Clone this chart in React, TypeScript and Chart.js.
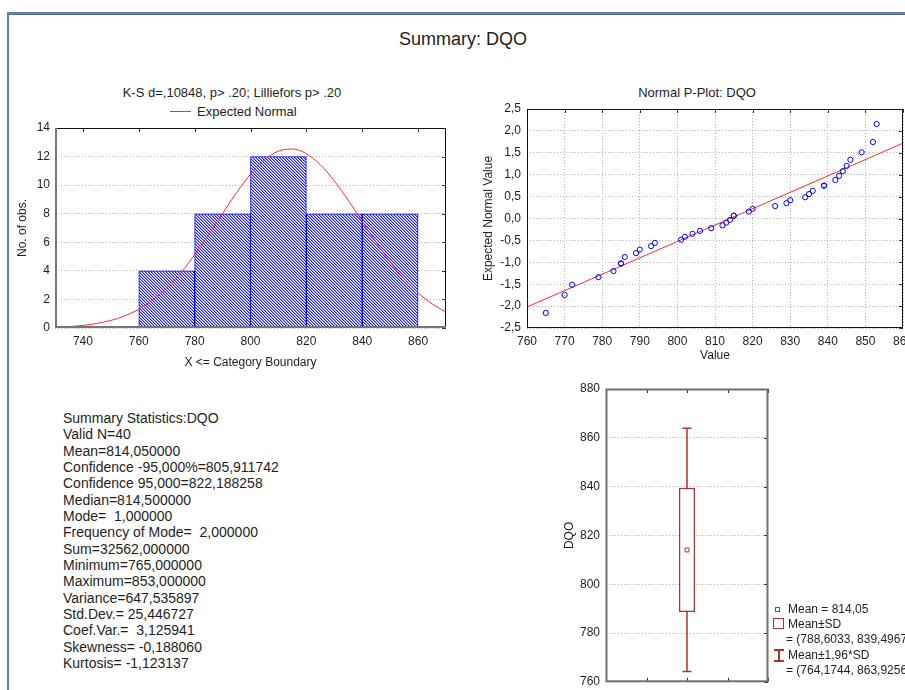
import React, { useEffect, useRef } from 'react';
import { Chart, registerables } from 'chart.js';

Chart.register(...registerables);

const FONT = "'Liberation Sans', Arial, Helvetica, sans-serif";
Chart.defaults.font.family = FONT;
Chart.defaults.font.size = 12;
Chart.defaults.color = '#1e1e1e';

// ---- Histogram (X <= category boundary) ----
const binLower = [760, 780, 800, 820, 840];
const binUpper = [780, 800, 820, 840, 860];
const binCounts = [4, 8, 12, 8, 8];
const histTicks = [740, 760, 780, 800, 820, 840, 860];

// Expected normal curve, read every 5 units
const normalX = [730, 735, 740, 745, 750, 755, 760, 765, 770, 775, 780, 785, 790, 795, 800, 805, 810, 815, 820, 825, 830, 835, 840, 845, 850, 855, 860, 865, 870];
const normalY = [0.05, 0.1, 0.18, 0.32, 0.53, 0.85, 1.31, 1.96, 2.8, 3.86, 5.12, 6.53, 8.02, 9.47, 10.77, 11.77, 12.38, 12.53, 12.2, 11.43, 10.3, 8.94, 7.45, 5.99, 4.62, 3.43, 2.46, 1.69, 1.12];

// ---- Normal probability plot ----
const pValues = [765, 770, 772, 779, 783, 785, 785, 786, 789, 790, 793, 794, 801, 802, 804, 806, 809, 812, 813, 814, 815, 815, 819, 820, 826, 829, 830, 834, 835, 836, 839, 839, 842, 843, 844, 845, 846, 849, 852, 853];
const pExpected = [-2.157, -1.746, -1.512, -1.34, -1.201, -1.027, -1.027, -0.88, -0.791, -0.709, -0.631, -0.557, -0.485, -0.417, -0.349, -0.284, -0.22, -0.156, -0.094, -0.031, 0.063, 0.063, 0.156, 0.22, 0.284, 0.349, 0.417, 0.485, 0.557, 0.631, 0.75, 0.75, 0.88, 0.975, 1.081, 1.201, 1.34, 1.512, 1.746, 2.157];
const fitX = [760, 860];
const fitY = [-2.02, 1.72];

// ---- Box plot ----
const boxMean = 814.05;
const sdRange = [788.6033, 839.4967];
const ciRange = [764.1744, 863.9256];

const statsLines = [
  'Summary Statistics:DQO',
  'Valid N=40',
  'Mean=814,050000',
  'Confidence -95,000%=805,911742',
  'Confidence 95,000=822,188258',
  'Median=814,500000',
  'Mode=  1,000000',
  'Frequency of Mode=  2,000000',
  'Sum=32562,000000',
  'Minimum=765,000000',
  'Maximum=853,000000',
  'Variance=647,535897',
  'Std.Dev.= 25,446727',
  'Coef.Var.=  3,125941',
  'Skewness= -0,188060',
  'Kurtosis= -1,123137',
];

const BOX_RED = '#a83434';
const GRID = '#b4b4b4';

// Plot frame with inward tick marks
const framePlugin = {
  id: 'frame',
  afterDatasetsDraw(chart: any, _args: any, opts: any) {
    const { ctx, chartArea: a, scales } = chart;
    const len = 4;
    ctx.save();
    ctx.strokeStyle = '#333';
    ctx.lineWidth = 1;
    ctx.beginPath();
    const xs = scales.x;
    const ys = scales.y;
    if (opts.top || opts.bottom) {
      xs.ticks.forEach((t: any) => {
        const px = Math.round(xs.getPixelForValue(t.value)) + 0.5;
        if (opts.top) { ctx.moveTo(px, a.top); ctx.lineTo(px, a.top + len); }
        if (opts.bottom) { ctx.moveTo(px, a.bottom); ctx.lineTo(px, a.bottom - len); }
      });
    }
    if (opts.right) {
      ys.ticks.forEach((t: any) => {
        const py = Math.round(ys.getPixelForValue(t.value)) + 0.5;
        ctx.moveTo(a.right, py); ctx.lineTo(a.right - len, py);
      });
    }
    ctx.stroke();
    ctx.strokeStyle = opts.color || '#000';
    ctx.lineWidth = opts.width || 1;
    ctx.strokeRect(a.left + 0.5, a.top + 0.5, a.right - a.left - 1, a.bottom - a.top - 1);
    if (opts.lbColor) {
      ctx.strokeStyle = opts.lbColor;
      ctx.lineWidth = opts.lbWidth || 2;
      ctx.beginPath();
      ctx.moveTo(a.left + 1, a.top);
      ctx.lineTo(a.left + 1, a.bottom - 1);
      ctx.lineTo(a.right, a.bottom - 1);
      ctx.stroke();
    }
    ctx.restore();
  },
};

function makeHatch(): CanvasPattern | string {
  const c = document.createElement('canvas');
  c.width = 3;
  c.height = 3;
  const g = c.getContext('2d');
  if (!g) return '#8080ff';
  g.fillStyle = '#ffffff';
  g.fillRect(0, 0, 3, 3);
  for (let i = 0; i < 3; i++) {
    g.fillStyle = '#2020ff';
    g.fillRect(i, i, 1, 1);
    g.fillStyle = '#9a9aff';
    g.fillRect((i + 1) % 3, i, 1, 1);
  }
  return g.createPattern(c, 'repeat') || '#8080ff';
}

const fmtComma = (v: number) => (Math.abs(v) < 1e-9 ? 0 : v).toFixed(1).replace('.', ',');

function makeHistogram(canvas: HTMLCanvasElement) {
  const hatch = makeHatch();
  return new Chart(canvas, {
    type: 'bar',
    data: {
      datasets: [
        {
          type: 'line',
          label: 'Expected Normal',
          data: normalX.map((x, i) => ({ x, y: normalY[i] })),
          borderColor: '#ff2a2a',
          borderWidth: 1,
          pointRadius: 0,
          cubicInterpolationMode: 'monotone',
        } as any,
        {
          type: 'bar',
          label: 'No. of obs.',
          data: binLower.map((lo, i) => ({ x: (lo + binUpper[i]) / 2, y: binCounts[i] })),
          backgroundColor: hatch as any,
          borderColor: '#0000ff',
          borderWidth: 1,
          borderSkipped: false,
          barPercentage: 1,
          categoryPercentage: 1,
        } as any,
      ],
    },
    options: {
      responsive: false,
      animation: false,
      events: [],
      layout: { padding: { left: 0, top: 13, right: 14, bottom: 2 } },
      plugins: {
        legend: { display: false },
        tooltip: { enabled: false },
        frame: { top: true, right: true, color: '#111', width: 1, lbColor: '#777', lbWidth: 2 },
      } as any,
      scales: {
        x: {
          type: 'linear',
          min: 730,
          max: 870,
          offset: false,
          grid: { display: false, drawTicks: false },
          border: { display: false },
          ticks: { padding: 6 },
          afterBuildTicks: (s: any) => { s.ticks = histTicks.map((value) => ({ value })); },
          title: { display: true, text: 'X <= Category Boundary', padding: { top: 0, bottom: 8 } },
          afterFit: (s: any) => { s.height = 50; },
        },
        y: {
          min: 0,
          max: 14,
          grid: { color: GRID, drawTicks: false },
          border: { display: false, dash: [1, 2] },
          ticks: { stepSize: 2, padding: 5 },
          title: { display: true, text: 'No. of obs.', padding: { top: 15, bottom: 0 } },
          afterFit: (s: any) => { s.width = 55; },
        },
      } as any,
    },
    plugins: [framePlugin],
  });
}

function makePPlot(canvas: HTMLCanvasElement) {
  return new Chart(canvas, {
    type: 'scatter',
    data: {
      datasets: [
        {
          label: 'DQO',
          data: pValues.map((v, i) => ({ x: v, y: pExpected[i] })),
          pointStyle: 'circle',
          pointRadius: 2.6,
          pointBorderWidth: 1,
          pointBorderColor: '#0000ff',
          pointBackgroundColor: 'rgba(255,255,255,0)',
          borderColor: '#0000ff',
        } as any,
        {
          type: 'line',
          label: 'Fit',
          data: fitX.map((x, i) => ({ x, y: fitY[i] })),
          borderColor: '#ff2a2a',
          borderWidth: 1,
          pointRadius: 0,
        } as any,
      ],
    },
    options: {
      responsive: false,
      animation: false,
      events: [],
      layout: { padding: { left: 0, top: 14, right: 17, bottom: 2 } },
      plugins: {
        legend: { display: false },
        tooltip: { enabled: false },
        frame: { top: true, right: true, color: '#111', width: 1 },
      } as any,
      scales: {
        x: {
          type: 'linear',
          min: 760,
          max: 860,
          grid: { color: GRID, drawTicks: false },
          border: { display: false, dash: [1, 2] },
          ticks: { stepSize: 10, padding: 6 },
          title: { display: true, text: 'Value', padding: { top: 0, bottom: 15 } },
          afterFit: (s: any) => { s.height = 50; },
        },
        y: {
          min: -2.5,
          max: 2.5,
          grid: { color: GRID, drawTicks: false },
          border: { display: false, dash: [1, 2] },
          ticks: { stepSize: 0.5, padding: 6, callback: (v: any) => fmtComma(Number(v)) },
          title: { display: true, text: 'Expected Normal Value', padding: { top: 11, bottom: 0 } },
          afterFit: (s: any) => { s.width = 57; },
        },
      } as any,
    },
    plugins: [framePlugin],
  });
}

function makeBoxPlot(canvas: HTMLCanvasElement) {
  return new Chart(canvas, {
    type: 'bar',
    data: {
      datasets: [
        {
          type: 'scatter',
          label: 'Mean',
          data: [{ x: 2, y: boxMean }],
          pointStyle: 'rect',
          pointRadius: 2.8,
          pointBorderWidth: 1,
          pointBorderColor: BOX_RED,
          pointBackgroundColor: '#ffffff',
        } as any,
        {
          type: 'bar',
          label: 'Mean±SD',
          data: [{ x: 2, y: sdRange }],
          backgroundColor: '#ffffff',
          borderColor: BOX_RED,
          borderWidth: 1.5,
          borderSkipped: false,
          grouped: false,
          maxBarThickness: 16,
        } as any,
        {
          type: 'scatter',
          label: 'Caps',
          data: ciRange.map((y) => ({ x: 2, y })),
          pointStyle: 'line',
          pointRadius: 4.5,
          pointBorderWidth: 1.5,
          pointBorderColor: BOX_RED,
        } as any,
        {
          type: 'bar',
          label: 'Mean±1,96*SD',
          data: [{ x: 2, y: ciRange }],
          backgroundColor: BOX_RED,
          borderWidth: 0,
          grouped: false,
          maxBarThickness: 1.5,
        } as any,
      ],
    },
    options: {
      responsive: false,
      animation: false,
      events: [],
      layout: { padding: { left: 0, top: 14, right: 12, bottom: 0 } },
      plugins: {
        legend: { display: false },
        tooltip: { enabled: false },
        frame: { top: true, bottom: true, right: true, color: '#6e6e6e', width: 2 },
      } as any,
      scales: {
        x: {
          type: 'linear',
          min: 0,
          max: 4,
          offset: false,
          grid: { display: false, drawTicks: false },
          border: { display: false },
          ticks: { display: false, stepSize: 1 },
          afterFit: (s: any) => { s.height = 8; },
        },
        y: {
          min: 760,
          max: 880,
          grid: { color: GRID, drawTicks: false },
          border: { display: false, dash: [1, 2] },
          ticks: { stepSize: 20, padding: 6 },
          title: { display: true, text: 'DQO', padding: { top: 22, bottom: 0 } },
          afterFit: (s: any) => { s.width = 66; },
        },
      } as any,
    },
    plugins: [framePlugin],
  });
}

function ChartCanvas(props: { left: number; top: number; width: number; height: number; make: (c: HTMLCanvasElement) => Chart }) {
  const ref = useRef<HTMLCanvasElement>(null);
  const { left, top, width, height, make } = props;
  useEffect(() => {
    if (!ref.current) return;
    const chart = make(ref.current);
    return () => chart.destroy();
  }, [make]);
  return (
    <canvas
      ref={ref}
      width={width}
      height={height}
      style={{ position: 'absolute', left, top, width, height, display: 'block' }}
    />
  );
}

function Txt(props: { x: number; y: number; size?: number; center?: boolean; children: React.ReactNode }) {
  const size = props.size ?? 12;
  const lh = size * 1.2;
  return (
    <div
      style={{
        position: 'absolute',
        left: props.x,
        top: props.y - lh / 2,
        lineHeight: `${lh}px`,
        fontSize: size,
        whiteSpace: 'pre',
        color: '#1e1e1e',
        transform: props.center ? 'translateX(-50%)' : undefined,
      }}
    >
      {props.children}
    </div>
  );
}

export default function App() {
  return (
    <div
      style={{
        position: 'absolute',
        left: 0,
        top: 0,
        width: 905,
        height: 690,
        overflow: 'hidden',
        background: '#ffffff',
        fontFamily: FONT,
      }}
    >
      {/* window frame */}
      <div style={{ position: 'absolute', left: 7, top: 12, width: 898, height: 2, background: '#5585c5' }} />
      <div style={{ position: 'absolute', left: 9, top: 14, width: 896, height: 1, background: '#6a6a6a' }} />
      <div style={{ position: 'absolute', left: 7, top: 12, width: 2, height: 678, background: '#5585c5' }} />

      <Txt x={463} y={40} size={18} center>Summary: DQO</Txt>

      {/* histogram */}
      <Txt x={232} y={93} size={13} center>K-S d=,10848, p&gt; .20; Lilliefors p&gt; .20</Txt>
      <div style={{ position: 'absolute', left: 170, top: 111, width: 21, height: 1, background: '#ff2a2a' }} />
      <Txt x={197} y={112} size={13}>Expected Normal</Txt>
      <ChartCanvas left={0} top={115} width={460} height={265} make={makeHistogram} />

      {/* normal probability plot */}
      <Txt x={697} y={93} size={13} center>Normal P-Plot: DQO</Txt>
      <ChartCanvas left={470} top={95} width={450} height={285} make={makePPlot} />

      {/* summary statistics */}
      <div
        style={{
          position: 'absolute',
          left: 63,
          top: 410,
          fontSize: 14,
          lineHeight: '16.33px',
          color: '#1e1e1e',
          whiteSpace: 'pre',
        }}
      >
        {statsLines.map((l, i) => (
          <div key={i}>{l}</div>
        ))}
      </div>

      {/* box plot */}
      <ChartCanvas left={540} top={375} width={240} height={320} make={makeBoxPlot} />
      <div style={{ position: 'absolute', left: 775, top: 607, width: 5, height: 5, boxSizing: 'border-box', border: `1px solid ${BOX_RED}`, background: '#fff' }} />
      <Txt x={788} y={609}>Mean = 814,05</Txt>
      <div style={{ position: 'absolute', left: 773, top: 618, width: 11, height: 11, boxSizing: 'border-box', border: `1.5px solid ${BOX_RED}`, background: '#fff' }} />
      <Txt x={788} y={624}>Mean±SD</Txt>
      <Txt x={786} y={639}>= (788,6033, 839,4967)</Txt>
      <div style={{ position: 'absolute', left: 774, top: 649, width: 10, height: 1.5, background: BOX_RED }} />
      <div style={{ position: 'absolute', left: 778.3, top: 649, width: 1.5, height: 12, background: BOX_RED }} />
      <div style={{ position: 'absolute', left: 774, top: 660, width: 10, height: 1.5, background: BOX_RED }} />
      <Txt x={788} y={655}>Mean±1,96*SD</Txt>
      <Txt x={786} y={670}>= (764,1744, 863,9256)</Txt>
    </div>
  );
}
